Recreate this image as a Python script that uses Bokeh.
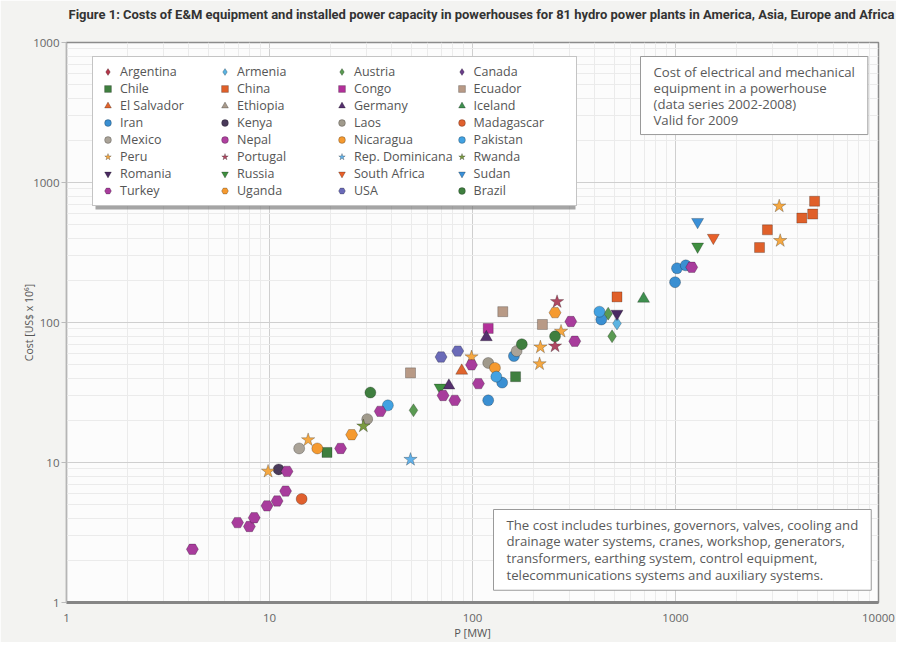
from bokeh.plotting import figure
from bokeh.models import (Legend, LegendItem, Label, FixedTicker, ColumnDataSource,
                          BoxAnnotation, Title)
from bokeh.embed import file_html
from bokeh.resources import INLINE

# ---------------- data ----------------
countries = ["Argentina", "Armenia", "Austria", "Canada",
             "Chile", "China", "Congo", "Ecuador",
             "El Salvador", "Ethiopia", "Germany", "Iceland",
             "Iran", "Kenya", "Laos", "Madagascar",
             "Mexico", "Nepal", "Nicaragua", "Pakistan",
             "Peru", "Portugal", "Rep. Dominicana", "Rwanda",
             "Romania", "Russia", "South Africa", "Sudan",
             "Turkey", "Uganda", "USA", "Brazil"]

country_markers = ["diamond", "diamond", "diamond", "diamond",
                   "square", "square", "square", "square",
                   "triangle", "triangle", "triangle", "triangle",
                   "circle", "circle", "circle", "circle",
                   "circle", "circle", "circle", "circle",
                   "star", "star", "star", "star",
                   "inverted_triangle", "inverted_triangle", "inverted_triangle", "inverted_triangle",
                   "hex", "hex", "hex", "circle"]

country_colors = ["#b5364a", "#5cb4e2", "#5a9a52", "#6a3d8a",
                  "#3f7f3f", "#e0602a", "#b3309a", "#b89a86",
                  "#e0652e", "#a89a8c", "#55306e", "#3f8f4f",
                  "#3a8fd2", "#4a3a5a", "#a09a8c", "#e0602e",
                  "#aaa398", "#b040a0", "#f59a30", "#42a2e2",
                  "#f5a842", "#b04862", "#62b2ea", "#7a9a40",
                  "#4a2a62", "#3f8f40", "#e8602a", "#3a90d8",
                  "#a83c9c", "#f59a30", "#6a6ab8", "#3f7f3f"]

plant_country = ["Turkey", "Turkey", "Turkey", "Turkey", "Turkey", "Turkey", "Turkey", "Turkey",
                 "Kenya", "Peru", "Madagascar", "Mexico", "Peru", "Nicaragua", "Chile", "Turkey",
                 "Uganda", "Rwanda", "Laos", "Brazil", "Turkey", "Pakistan", "Austria", "Ecuador",
                 "USA", "USA", "Russia", "Germany", "Turkey", "Turkey", "El Salvador", "Peru",
                 "Turkey", "Turkey", "Laos", "Nicaragua", "Congo", "Germany", "Iran", "Pakistan",
                 "Iran", "Iran", "Mexico", "Brazil", "Chile", "Ecuador", "Ecuador", "Peru",
                 "Peru", "Portugal", "Uganda", "Turkey", "Peru", "Brazil", "Portugal", "Turkey",
                 "Pakistan", "Iran", "Austria", "Romania", "Armenia", "Austria", "China", "Iceland",
                 "Sudan", "South Africa", "Russia", "Iran", "Iran", "Turkey", "Iran", "China",
                 "China", "China", "China", "China", "Peru", "Peru", "Rep. Dominicana"]

plant_power_mw = [4.17, 6.96, 7.96, 8.41, 9.72, 10.9, 12.0, 12.2,
                  11.1, 9.84, 14.4, 14.0, 15.5, 17.2, 19.2, 22.4,
                  25.4, 29.0, 30.3, 31.4, 35.1, 38.3, 51.2, 49.5,
                  70.0, 84.6, 69.2, 76.5, 71.6, 81.8, 88.5, 98.9,
                  98.9, 107, 119.5, 129, 119.5, 117, 119.5, 131,
                  140, 160, 165, 175, 163, 141, 221, 216,
                  214, 261, 255, 305, 273, 255, 255, 319,
                  422, 431, 466, 515, 515, 487, 515, 696,
                  1285, 1536, 1285, 1017, 1124, 1202, 995, 4843,
                  4740, 4190, 2836, 2594, 3243, 3279, 49.5]

plant_cost_musd = [2.40, 3.72, 3.49, 4.03, 4.90, 5.31, 6.25, 8.64,
                   8.93, 8.64, 5.49, 12.6, 14.5, 12.6, 11.8, 12.6,
                   15.8, 18.2, 20.4, 31.6, 23.2, 25.6, 23.6, 43.7,
                   56.7, 62.5, 34.3, 35.4, 30.1, 27.8, 45.2, 56.7,
                   49.8, 36.6, 51.4, 47.4, 90.7, 78.4, 27.8, 41.0,
                   37.2, 57.6, 62.5, 70.0, 41.0, 119.5, 96.8, 66.7,
                   50.6, 140.6, 117.6, 101.6, 86.4, 79.7, 67.8, 73.5,
                   119.5, 105.0, 115.7, 115.7, 98.4, 79.7, 152.4, 147.6,
                   523, 403, 349, 244, 256, 248, 194, 735,
                   595, 557, 459, 343, 678, 384, 10.5]

x_ticks = [1, 10, 100, 1000, 10000]
x_tick_labels = {1: "1", 10: "10", 100: "100", 1000: "1000", 10000: "10000"}
y_ticks = [1, 10, 100, 1000, 10000]
y_tick_labels = {1: "1", 10: "10", 100: "100", 1000: "1000", 10000: "1000"}

title_text = ("Figure 1: Costs of E&M equipment and installed power capacity in powerhouses "
              "for 81 hydro power plants in America, Asia, Europe and Africa")
box1_text = ("Cost of electrical and mechanical\nequipment in a powerhouse\n"
             "(data series 2002-2008)\nValid for 2009")
box2_text = ("The cost includes turbines, governors, valves, cooling and\n"
             "drainage water systems, cranes, workshop, generators,\n"
             "transformers, earthing system, control equipment,\n"
             "telecommunications systems and auxiliary systems.")

marker_sizes = {"diamond": 13, "square": 10, "triangle": 12, "inverted_triangle": 12,
                "circle": 11, "star": 14, "hex": 12}

FONT = "Open Sans"
BORDER_L, BORDER_R, BORDER_T, BORDER_B = 66, 18, 42, 38
WIDTH, HEIGHT = 896, 642
FRAME_H = HEIGHT - BORDER_T - BORDER_B

# ---------------- figure ----------------
p = figure(width=WIDTH, height=HEIGHT, x_axis_type="log", y_axis_type="log",
           x_range=(1, 10000), y_range=(1, 10000),
           output_backend="svg", toolbar_location=None,
           min_border_left=BORDER_L, min_border_right=BORDER_R,
           min_border_top=BORDER_T, min_border_bottom=BORDER_B,
           background_fill_color="#fcfcfc", border_fill_color="#f3f3f1",
           outline_line_color="#8c8c8c", outline_line_width=1.5)

# spacer between frame and title so the title sits near the top edge
p.add_layout(Title(text=" ", text_font_size="4px", standoff=14), "above")
p.title.text = title_text
p.title.align = "left"
p.title.offset = 2
p.title.standoff = 0
p.title.text_font = "Roboto"
p.title.text_font_size = "13px"
p.title.text_font_style = "bold"
p.title.text_color = "#333333"

minor = [m * d for d in x_ticks[:-1] for m in range(2, 10)]
for ax, ticks in ((p.xaxis[0], x_ticks), (p.yaxis[0], y_ticks)):
    ax.ticker = FixedTicker(ticks=ticks, minor_ticks=minor)
    ax.major_label_text_font = FONT
    ax.major_label_text_font_size = "11.5px"
    ax.major_label_text_color = "#666666"
    ax.axis_label_text_font = FONT
    ax.axis_label_text_font_style = "normal"
    ax.axis_label_text_color = "#555555"
    ax.minor_tick_line_color = None
    ax.major_tick_in = 0

p.xaxis[0].major_label_overrides = x_tick_labels
p.yaxis[0].major_label_overrides = y_tick_labels
p.xaxis.axis_label = "P [MW]"
p.yaxis.axis_label = "Cost [US$ x 10\u2076]"
p.xaxis.axis_label_text_font_size = "11px"
p.yaxis.axis_label_text_font_size = "10.5px"
p.xaxis.major_tick_out = 0
p.xaxis.major_label_standoff = 7
p.xaxis.axis_label_standoff = 0
p.xaxis.axis_line_color = "#858585"
p.xaxis.axis_line_width = 3
p.yaxis.major_tick_out = 5
p.yaxis.major_tick_line_color = "#bbbbbb"
p.yaxis.major_label_standoff = 2
p.yaxis.axis_label_standoff = -6
p.yaxis.axis_line_color = "#b5b5b5"

p.grid.grid_line_color = "#cfcfcf"
p.grid.minor_grid_line_color = "#ebebeb"

items = []
for c, m, col in zip(countries, country_markers, country_colors):
    xs = [x for cc, x in zip(plant_country, plant_power_mw) if cc == c]
    ys = [y for cc, y in zip(plant_country, plant_cost_musd) if cc == c]
    if not xs:  # legend-only entry: no plant drawn for this country
        xs, ys = [float("nan")], [float("nan")]
    src = ColumnDataSource(dict(x=xs, y=ys))
    r = p.scatter("x", "y", source=src, marker=m, size=marker_sizes[m],
                  fill_color=col, line_color="#000000", line_alpha=0.3, line_width=0.8)
    items.append(LegendItem(label=c, renderers=[r]))

# legend geometry (screen px, relative to frame bottom-left)
LEG_W, LEG_H = 480, 148
LEG_X, LEG_Y = 26, FRAME_H - 18 - LEG_H
p.add_layout(BoxAnnotation(left=LEG_X + 3, right=LEG_X + LEG_W + 3,
                           top=LEG_Y + LEG_H - 3, bottom=LEG_Y - 3,
                           left_units="screen", right_units="screen",
                           top_units="screen", bottom_units="screen",
                           fill_color="#6a6a6a", fill_alpha=0.6, line_color=None))

legend = Legend(items=items, ncols=4, orientation="horizontal", location=(LEG_X, LEG_Y),
                label_text_font=FONT, label_text_font_size="12.5px",
                label_text_color="#555555", glyph_width=17, glyph_height=17,
                label_height=17, label_width=96, spacing=0, padding=6, label_standoff=4,
                border_line_color="#8a8a8a", border_line_width=1,
                background_fill_color="#ffffff", background_fill_alpha=1.0)
p.add_layout(legend)

for txt, x, y, lh in ((box1_text, 574, FRAME_H - 16, 0.89), (box2_text, 427, 93, 0.94)):
    shadow = Label(x=x, y=y, x_units="screen", y_units="screen", text=txt,
                   x_offset=3, y_offset=-3, text_alpha=0.0,
                   text_font=FONT, text_font_size="13.2px", text_line_height=lh,
                   text_baseline="top", text_align="left", padding=(13, 6),
                   background_fill_color="#6a6a6a", background_fill_alpha=0.6)
    p.add_layout(shadow)
    lab = Label(x=x, y=y, x_units="screen", y_units="screen", text=txt,
                text_font=FONT, text_font_size="13.2px", text_line_height=lh,
                text_color="#5a5a5a", text_baseline="top", text_align="left",
                padding=(13, 6),
                background_fill_color="#ffffff", border_line_color="#9a9a9a",
                border_line_width=1)
    p.add_layout(lab)

open("out.html", "w").write(file_html(p, INLINE))
